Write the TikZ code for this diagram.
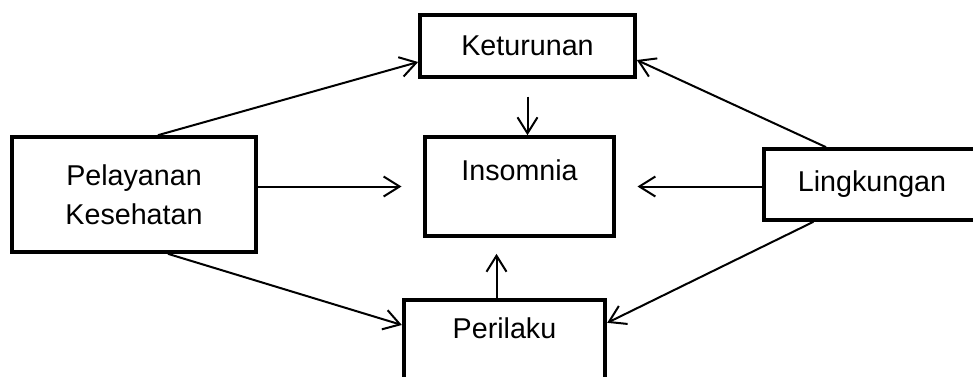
\documentclass[tikz,border=0pt]{standalone}
\usepackage{fontspec}
\setmainfont{Liberation Sans}
\usetikzlibrary{arrows.meta}

\begin{document}
\begin{tikzpicture}[x=0.75pt, y=-0.75pt, font=\fontsize{21.5}{29}\selectfont,
  box/.style={draw, line width=3pt, align=center, inner sep=0pt},
  arr/.style={-{Straight Barb[length=12pt, width=15pt]}, line width=1.5pt}]
\useasboundingbox (0,0) rectangle (973,376);
\node[box, minimum width=161pt, minimum height=47pt] (ket) at (527.5,46) {Keturunan};
\node[box, minimum width=142pt, minimum height=74pt, text height=12pt, text depth=21.75pt] (ins) at (519.5,186.5) {Insomnia};
\node[box, minimum width=183pt, minimum height=86pt] (pel) at (134,194.5) {Pelayanan\\Kesehatan};
\node[box, minimum width=162pt, minimum height=53pt] (lin) at (872,184.5) {Lingkungan};
\node[box, minimum width=151pt, minimum height=62pt, text height=12pt, text depth=17pt] (per) at (504.5,341.5) {Perilaku};
\draw[arr, shorten <=13pt] (ket.south) -- (ket.south |- ins.north);
\draw[arr, shorten >=16pt] (pel.east |- ins) -- (ins.west);
\draw[arr, shorten >=16pt] (lin.west |- ins) -- (ins.east);
\draw[arr, shorten >=12pt] ([xshift=-6pt]per.north) -- ([xshift=-6pt]per.north |- ins.south);
\draw[arr] ([xshift=18pt]pel.north) -- ([yshift=-12pt]ket.west);
\draw[arr] ([xshift=-34.5pt]lin.north) -- ([yshift=-10.5pt]ket.east);
\draw[arr] ([xshift=-44pt]lin.south) -- ([yshift=14pt]per.east);
\draw[arr] ([xshift=25.5pt]pel.south) -- ([yshift=12.4pt]per.west);
\end{tikzpicture}
\end{document}
